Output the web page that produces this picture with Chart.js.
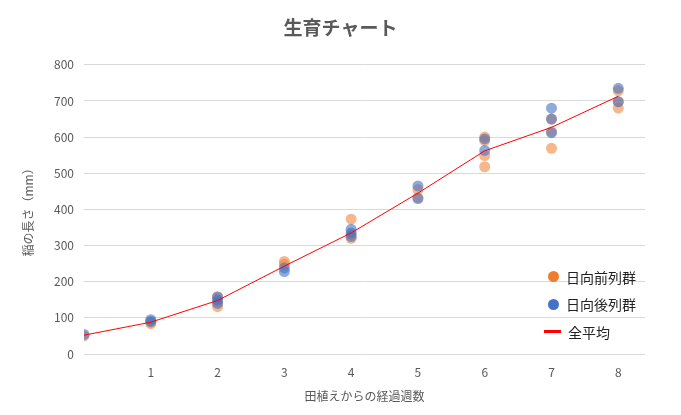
<!DOCTYPE html>
<html>
<head>
<meta charset="utf-8">
<script src="https://cdn.jsdelivr.net/npm/chart.js@4.4.0/dist/chart.umd.min.js"></script>
<style>
    body { margin: 0; background: #fff; }
    #wrap { position: relative; width: 681px; height: 415px; }
    #legend {
        position: absolute; left: 544px; top: 263px;
        font-family: "Noto Sans CJK JP", sans-serif; font-size: 14px; color: #222;
    }
    .item { height: 27.5px; display: flex; align-items: center; }
    .dot { width: 11px; height: 11px; border-radius: 50%; margin: 0 7px 0 4px; }
    .bar { width: 17px; height: 3px; background: #ff0000; margin-right: 7px; }
</style>
</head>
<body>
<div id="wrap">
    <canvas id="growthChart" width="681" height="415"></canvas>
    <div id="legend">
        <div class="item"><span class="dot" style="background:#ed7d31"></span>日向前列群</div>
        <div class="item"><span class="dot" style="background:#4472c4"></span>日向後列群</div>
        <div class="item"><span class="bar"></span>全平均</div>
    </div>
</div>
<script>
// Weeks after transplanting
const weeks = [0, 1, 2, 3, 4, 5, 6, 7, 8];

// Plant length (mm) measured per week, front row group
const frontRows = [
    [50],
    [84, 88],
    [158, 131, 145],
    [256, 248],
    [373, 320, 330],
    [455, 432],
    [600, 549, 518, 590],
    [569, 615, 650],
    [680, 698, 728]
];

// Plant length (mm) measured per week, back row group
const backRows = [
    [54],
    [95, 90],
    [150, 140, 158],
    [238, 228],
    [345, 325, 335],
    [465, 430],
    [595, 563],
    [680, 612, 650],
    [735, 698]
];

// Overall average per week
const overallAvg = [52, 88, 148, 243, 335, 445, 562, 627, 713];

const yTicks = [0, 100, 200, 300, 400, 500, 600, 700, 800];
const xTicks = [1, 2, 3, 4, 5, 6, 7, 8];

const FONT = '"Noto Sans CJK JP", "Noto Sans", sans-serif';
const TEXT = '#595959';

// Flatten weekly lists into scatter points
function toPoints(groups) {
    const pts = [];
    groups.forEach((vals, i) => {
        vals.forEach(v => pts.push({ x: weeks[i], y: v }));
    });
    return pts;
}

const ctx = document.getElementById('growthChart').getContext('2d');

new Chart(ctx, {
    type: 'scatter',
    data: {
        datasets: [
            {
                label: '全平均',
                type: 'line',
                data: weeks.map((w, i) => ({ x: w, y: overallAvg[i] })),
                borderColor: '#ff0000',
                borderWidth: 1,
                pointRadius: 0,
                tension: 0,
                order: 0
            },
            {
                label: '日向後列群',
                data: toPoints(backRows),
                backgroundColor: 'rgba(68, 114, 196, 0.6)',
                borderWidth: 0,
                pointRadius: 5.5,
                order: 1
            },
            {
                label: '日向前列群',
                data: toPoints(frontRows),
                backgroundColor: 'rgba(237, 125, 49, 0.55)',
                borderWidth: 0,
                pointRadius: 5.5,
                order: 2
            }
        ]
    },
    options: {
        responsive: false,
        animation: false,
        plugins: {
            legend: { display: false },
            tooltip: { enabled: false },
            title: {
                display: true,
                text: '生育チャート',
                color: TEXT,
                font: { family: FONT, size: 19, weight: 'bold' },
                padding: { top: 16, bottom: 26 }
            }
        },
        scales: {
            x: {
                type: 'linear',
                min: 0,
                max: 8.4,
                afterBuildTicks: scale => {
                    scale.ticks = xTicks.map(v => ({ value: v }));
                },
                afterFit: scale => { scale.height = 61; },
                grid: { display: false },
                border: { display: false },
                ticks: {
                    color: TEXT,
                    font: { family: FONT, size: 12 },
                    padding: 3
                },
                title: {
                    display: true,
                    text: '田植えからの経過週数',
                    color: TEXT,
                    font: { family: FONT, size: 12 },
                    padding: { top: 0, bottom: 11 }
                }
            },
            y: {
                min: 0,
                max: 800,
                afterBuildTicks: scale => {
                    scale.ticks = yTicks.map(v => ({ value: v }));
                },
                afterFit: scale => { scale.width = 84; },
                grid: { color: '#d9d9d9', drawTicks: false },
                border: { display: false },
                ticks: {
                    color: TEXT,
                    font: { family: FONT, size: 12 },
                    padding: 10
                },
                title: {
                    display: true,
                    text: '稲の長さ（mm）',
                    color: TEXT,
                    font: { family: FONT, size: 12 },
                    padding: { top: 21, bottom: 0 }
                }
            },
            // empty right-hand spacer so the title stays centred on the canvas
            yRight: {
                position: 'right',
                display: true,
                afterFit: scale => { scale.width = 36; },
                grid: { display: false },
                border: { display: false },
                ticks: { display: false }
            }
        }
    }
});
</script>
</body>
</html>
